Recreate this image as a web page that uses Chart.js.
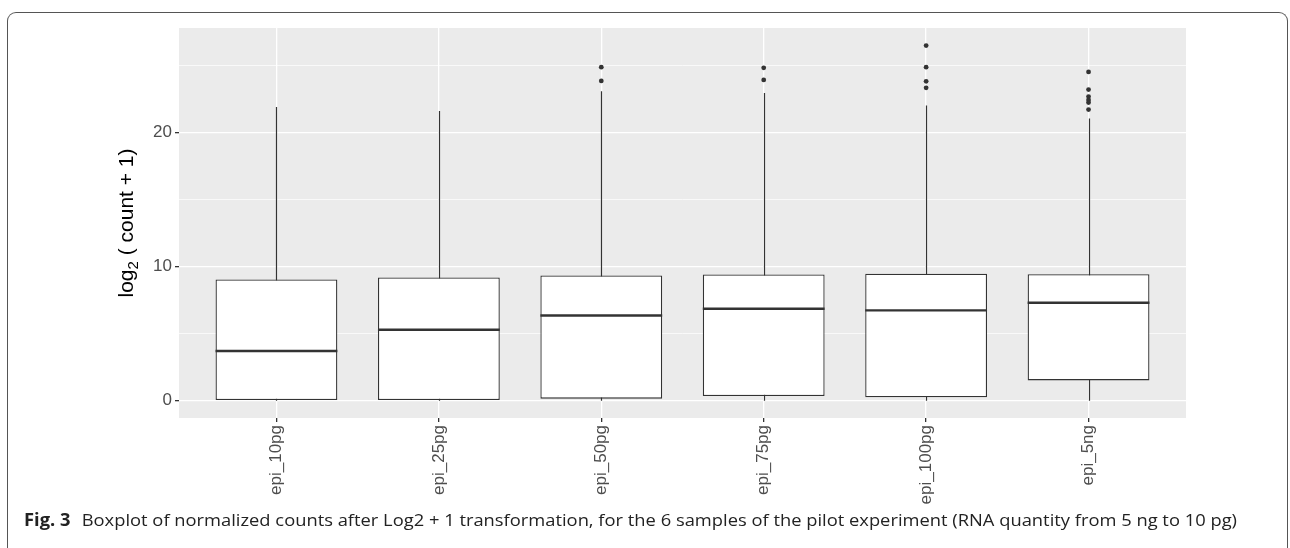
<!DOCTYPE html>
<html>
<head>
<meta charset="utf-8">
<script src="https://cdn.jsdelivr.net/npm/chart.js@4.4.1/dist/chart.umd.min.js"></script>
<style>
  html, body { margin: 0; padding: 0; background: #fff; }
  #wrap { position: relative; width: 1290px; height: 548px; overflow: hidden; }
  #frame {
    position: absolute; left: 7px; top: 12px; width: 1281px; height: 600px;
    border: 1.3px solid #555; border-bottom: none; border-radius: 9px 9px 0 0;
    box-sizing: border-box;
  }
  #chart { position: absolute; left: 0; top: 0; }
  #caption {
    position: absolute; left: 24px; top: 508px; white-space: nowrap;
    font-family: "Open Sans", "Noto Sans", sans-serif; font-size: 17px; color: #222;
    transform-origin: left top;
  }
  #caption b { font-weight: 700; margin-right: 6px; }
</style>
</head>
<body>
<div id="wrap">
  <div id="frame"></div>
  <canvas id="chart" width="1290" height="548"></canvas>
  <div id="caption"><b>Fig. 3</b> Boxplot of normalized counts after Log2 + 1 transformation, for the 6 samples of the pilot experiment (RNA quantity from 5 ng to 10 pg)</div>
</div>
<script>
// Samples and their box statistics (log2(count + 1))
const categories   = ['epi_10pg', 'epi_25pg', 'epi_50pg', 'epi_75pg', 'epi_100pg', 'epi_5ng'];
const whiskerLow   = [0, 0, 0, 0, 0, 0];
const q1           = [0, 0, 0.15, 0.35, 0.25, 1.51];
const median       = [3.70, 5.29, 6.35, 6.85, 6.73, 7.30];
const q3           = [9.03, 9.18, 9.33, 9.40, 9.46, 9.43];
const whiskerHigh  = [21.89, 21.59, 23.06, 22.93, 21.99, 21.02];
const outliers     = [
  [],
  [],
  [24.85, 23.83],
  [24.80, 23.90],
  [26.46, 24.85, 23.80, 23.31],
  [24.50, 23.18, 22.66, 22.41, 22.21, 21.69]
];
const yTicks = [0, 10, 20];
const yGrid  = [0, 5, 10, 15, 20, 25];

const INK = '#333333';
const PANEL = '#EBEBEB';

const boxData = categories.map((c, i) => ({ x: i + 1, y: [q1[i], q3[i]] }));
const outlierData = [];
outliers.forEach((vals, i) => vals.forEach(v => outlierData.push({ x: i + 1, y: v })));

// Grey panel behind the plot area
const panelPlugin = {
  id: 'panel',
  beforeDraw(chart) {
    const { ctx, chartArea: a } = chart;
    ctx.save();
    ctx.fillStyle = PANEL;
    ctx.fillRect(a.left, a.top, a.right - a.left, a.bottom - a.top);
    ctx.restore();
  }
};

// Whiskers behind the boxes, medians on top of them
const boxPlugin = {
  id: 'boxParts',
  beforeDatasetsDraw(chart) {
    const { ctx, scales: { x, y } } = chart;
    ctx.save();
    ctx.strokeStyle = INK;
    ctx.lineWidth = 1.2;
    categories.forEach((c, i) => {
      const px = Math.round(x.getPixelForValue(i + 1)) + 0.5;
      ctx.beginPath();
      ctx.moveTo(px, y.getPixelForValue(whiskerLow[i]));
      ctx.lineTo(px, y.getPixelForValue(whiskerHigh[i]));
      ctx.stroke();
    });
    ctx.restore();
  },
  afterDatasetsDraw(chart) {
    const { ctx, scales: { y } } = chart;
    const meta = chart.getDatasetMeta(0);
    ctx.save();
    ctx.strokeStyle = INK;
    ctx.lineWidth = 2.4;
    meta.data.forEach((bar, i) => {
      const half = bar.width / 2;
      const py = y.getPixelForValue(median[i]);
      ctx.beginPath();
      ctx.moveTo(bar.x - half, py);
      ctx.lineTo(bar.x + half, py);
      ctx.stroke();
    });
    ctx.restore();
  }
};

// Y-axis title with a subscript 2
const yTitlePlugin = {
  id: 'yTitle',
  afterDraw(chart) {
    const { ctx, chartArea: a } = chart;
    const big = '21px "Liberation Sans", Arial, sans-serif';
    const small = '15px "Liberation Sans", Arial, sans-serif';
    const p1 = 'log', p2 = '2', p3 = ' ( count + 1)';
    ctx.save();
    ctx.font = big;  const w1 = ctx.measureText(p1).width, w3 = ctx.measureText(p3).width;
    ctx.font = small; const w2 = ctx.measureText(p2).width;
    const total = w1 + w2 + w3;
    ctx.translate(133, (a.top + a.bottom) / 2);
    ctx.rotate(-Math.PI / 2);
    ctx.fillStyle = '#000';
    ctx.textBaseline = 'alphabetic';
    let cx = -total / 2;
    ctx.font = big;  ctx.fillText(p1, cx, 0); cx += w1;
    ctx.font = small; ctx.fillText(p2, cx, 5); cx += w2;
    ctx.font = big;  ctx.fillText(p3, cx, 0);
    ctx.restore();
  }
};

const tickFont = { family: '"Liberation Sans", Arial, sans-serif', size: 17 };

new Chart(document.getElementById('chart'), {
  data: {
    datasets: [
      {
        type: 'bar',
        data: boxData,
        backgroundColor: '#FFFFFF',
        borderColor: INK,
        borderWidth: 1.3,
        borderSkipped: false,
        barPercentage: 0.75,
        categoryPercentage: 1.0,
        order: 2
      },
      {
        type: 'scatter',
        data: outlierData,
        pointRadius: 2.4,
        pointBackgroundColor: INK,
        pointBorderWidth: 0,
        order: 1
      }
    ]
  },
  options: {
    responsive: false,
    animation: false,
    events: [],
    layout: { padding: { top: 28, right: 104, left: 0, bottom: 0 } },
    plugins: { legend: { display: false }, tooltip: { enabled: false } },
    scales: {
      x: {
        type: 'linear',
        offset: false,
        min: 0.4,
        max: 6.6,
        afterBuildTicks(scale) { scale.ticks = categories.map((c, i) => ({ value: i + 1 })); },
        afterFit(scale) { scale.height = 130; },
        grid: { offset: false, color: '#FFFFFF', lineWidth: 1.3, tickColor: INK, tickLength: 4, drawOnChartArea: true },
        border: { display: false },
        ticks: {
          autoSkip: false,
          minRotation: 90,
          maxRotation: 90,
          padding: 3,
          color: '#4D4D4D',
          font: tickFont,
          callback: (v) => categories[v - 1]
        }
      },
      y: {
        type: 'linear',
        min: -1.29,
        max: 27.77,
        afterBuildTicks(scale) { scale.ticks = yGrid.map(v => ({ value: v })); },
        afterFit(scale) { scale.width = 179; },
        grid: {
          color: '#FFFFFF',
          lineWidth: (c) => (yTicks.includes(c.tick.value) ? 1.3 : 0.7),
          tickColor: (c) => (yTicks.includes(c.tick.value) ? INK : 'rgba(0,0,0,0)'),
          tickLength: 4
        },
        border: { display: false },
        ticks: {
          padding: 3,
          color: '#4D4D4D',
          font: tickFont,
          callback: (v) => (yTicks.includes(v) ? String(v) : '')
        }
      }
    }
  },
  plugins: [panelPlugin, boxPlugin, yTitlePlugin]
});

// Fit the caption line to its column width
const cap = document.getElementById('caption');
const capWidth = cap.getBoundingClientRect().width;
cap.style.transform = 'scaleX(' + (1213 / capWidth) + ')';
</script>
</body>
</html>
